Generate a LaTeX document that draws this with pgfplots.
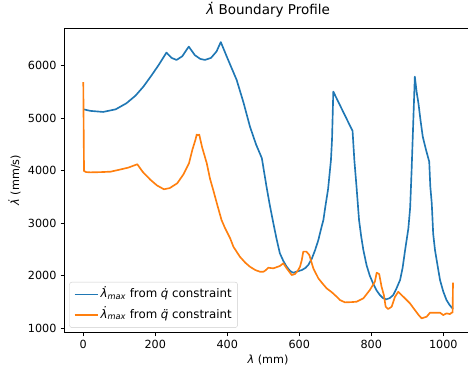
\documentclass[border=0pt]{standalone}
\usepackage{fontspec}
\setmainfont{DejaVu Sans}
\usepackage{pgfplots}
\pgfplotsset{compat=1.18}
\definecolor{mplblue}{HTML}{1F77B4}
\definecolor{mplorange}{HTML}{FF7F0E}
\newcommand{\ldot}{{\itshape λ̇}}
\begin{document}
\begin{tikzpicture}
\begin{axis}[
  at={(0pt,0pt)}, anchor=south west,
  scale only axis, width=407.1pt, height=304.3pt,
  xmin=-52.2, xmax=1078.7, ymin=925, ymax=6718,
  xtick={0,200,...,1000}, ytick={1000,2000,...,6000},
  tick align=outside, tick pos=left,
  major tick length=3.9pt,
  every tick/.style={black, line width=0.9pt},
  axis line style={line width=0.9pt},
  /pgf/number format/assume math mode=true,
  /pgf/number format/1000 sep={},
  tick label style={font=\fontsize{11.2}{13}\selectfont, inner sep=0pt},
  xticklabel shift=3.9pt, yticklabel shift=3.9pt,
  title={\ldot{} Boundary Profile},
  title style={font=\fontsize{13.5}{16}\selectfont, at={(axis description cs:0.5,1)}, anchor=base, yshift=7.3pt, inner sep=0pt},
  xlabel={{\itshape λ} (mm)},
  ylabel={\ldot{} (mm/s)},
  every axis x label/.style={at={(axis description cs:0.5,0)}, anchor=north, yshift=-22.7pt, inner sep=0pt, font=\fontsize{11.2}{13}\selectfont},
  every axis y label/.style={at={(axis description cs:0,0.5)}, xshift=-43.8pt, rotate=90, anchor=south, inner sep=0pt, font=\fontsize{11.2}{13}\selectfont},
  legend style={at={(0,0)}, anchor=south west, xshift=4.8pt, yshift=4.5pt,
    draw=black!20, rounded corners=2.5pt, fill=white, fill opacity=0.8, text opacity=1,
    inner xsep=4.4pt, inner ysep=5pt, row sep=5.5pt,
    font=\fontsize{11.8}{13}\selectfont,
    nodes={inner sep=1.5pt, text height=9pt, text depth=3pt}},
  legend cell align=left,
  legend image code/.code={\draw[#1] (0pt,0pt) -- (23.5pt,0pt);},
]
\addplot[mplblue, line width=1.65pt, line join=round] coordinates {
(0,5171) (20,5140) (55,5120) (90,5170) (120,5286) (145,5430) (167,5602) (190,5820) (210,6020) (231,6250)
(245,6150) (259,6110) (275,6180) (293,6364) (310,6200) (325,6130) (338,6110) (355,6150) (370,6270) (382,6450)
(400,6150) (426,5730) (445,5300) (463,4840) (480,4500) (496,4240)
(509,3697) (518,3350) (528,3000) (537,2700) (546,2430) (556,2280) (565,2173) (575,2090) (583,2059)
(595,2085) (607,2110) (617,2150) (625,2206) (635,2330) (644,2491) (653,2682) (660,2880) (667,3063)
(672,3300) (680,3650) (688,4206) (691,4600) (694.5,5507)
(748,4758) (753,4200) (759,3697) (766,3063) (772,2750) (778,2491) (787,2200) (796,2000) (805,1857)
(815,1720) (824,1634) (832,1580) (841,1552) (851,1575) (861,1634) (870,1760) (880,1920) (887,2150)
(894,2491) (903,2900) (908,3300) (912,4000) (916,4800) (921,5792) (926,5500) (931,5286) (937,4950)
(943,4650) (952,4400) (961,4173) (964,3700) (968,3381) (972,2800) (977,2491) (984,2200) (991,1920)
(1000,1700) (1009,1539) (1018,1440) (1027,1370)
};
\addlegendentry{\ldot\textsubscript{\itshape max} from {\itshape q̇} constraint}
\addplot[mplorange, line width=1.65pt, line join=round] coordinates {
(0,5686) (2,3996) (8,3975) (20,3970) (50,3975) (76,3983) (100,4020) (125,4060) (150,4124) (165,3980)
(187,3825) (205,3720) (224,3648) (240,3670) (261,3762) (278,3930) (293.6,4143) (303,4400) (312,4600)
(315,4690) (319,4676) (322,4690) (330,4450) (343,4143) (352,3850) (361,3634) (371,3381) (384,3063)
(394,2905) (408,2714) (417,2554) (435,2364) (450,2250) (463,2173) (478,2110) (491,2078) (500,2078)
(505,2097) (514,2154) (528,2143) (546,2187) (555.6,2238) (565,2143) (574,2060) (579,2015) (588,2034)
(596,2100) (602,2173) (607,2300) (611,2460) (620,2460) (628,2396) (633,2280) (639,2143) (653,1952)
(665,1850) (676,1762) (690,1690) (704,1602) (713,1539) (727,1495) (745,1500) (759,1507) (778,1571)
(796,1730) (810,1888) (815,2059) (822,2034) (828.6,1792) (835,1634) (840,1412) (847,1368) (856.6,1412)
(866,1602) (875,1697) (893.6,1571) (907.5,1476) (921,1350) (932,1250) (940,1190) (954,1222) (963,1298)
(991,1298) (1000,1253) (1009,1286) (1018.5,1272) (1023,1298) (1026,1300) (1027,1870)
};
\addlegendentry{\ldot\textsubscript{\itshape max} from {\itshape q̈} constraint}
\end{axis}
\pgfresetboundingbox
\useasboundingbox (-64.5pt,-35.7pt) rectangle (403.5pt,332.3pt);
\end{tikzpicture}
\end{document}
